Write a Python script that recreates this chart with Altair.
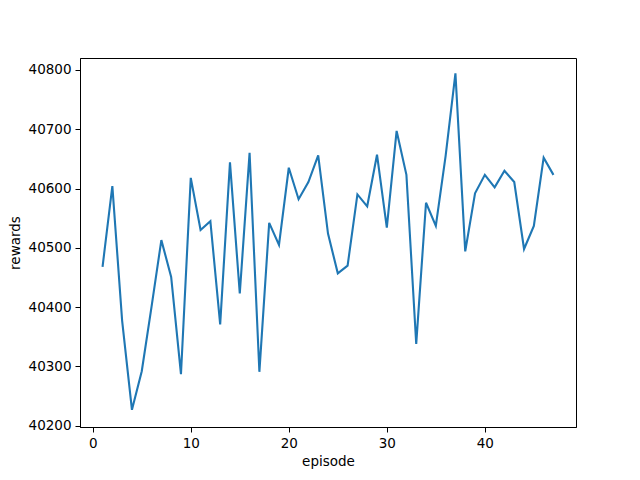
import altair as alt
import pandas as pd

episode = list(range(1, 48))
rewards = [40468, 40604, 40377, 40227, 40292, 40401, 40513, 40451, 40287, 40618,
           40530, 40545, 40371, 40644, 40423, 40660, 40291, 40542, 40505, 40635,
           40582, 40611, 40656, 40524, 40457, 40470, 40590, 40570, 40657, 40534,
           40697, 40623, 40338, 40576, 40537, 40655, 40794, 40494, 40592, 40623,
           40602, 40630, 40611, 40498, 40537, 40652, 40623]

df = pd.DataFrame({"episode": episode, "rewards": rewards})

font = "DejaVu Sans"

chart = alt.Chart(df).mark_line(color="#1f77b4", strokeWidth=2.1, clip=True).encode(
    x=alt.X("episode:Q", scale=alt.Scale(domain=[-1.3, 49.3], nice=False, zero=False),
            axis=alt.Axis(values=[0, 10, 20, 30, 40], title="episode", grid=False,
                          domainColor="black", tickColor="black", tickSize=5,
                          labelPadding=4, labelFontSize=13.5, labelColor="black",
                          labelFont=font, titleFont=font, titleFontSize=13.5,
                          titleFontWeight="normal", titleColor="black", titlePadding=5,
                          labelFlush=False)),
    y=alt.Y("rewards:Q", scale=alt.Scale(domain=[40198, 40820], nice=False, zero=False),
            axis=alt.Axis(values=[40200, 40300, 40400, 40500, 40600, 40700, 40800],
                          format="d", title="rewards", grid=False,
                          domainColor="black", tickColor="black", tickSize=5,
                          labelPadding=4, labelFontSize=13.5, labelColor="black",
                          labelFont=font, titleFont=font, titleFontSize=13.5,
                          titleFontWeight="normal", titleColor="black", titlePadding=6,
                          labelFlush=False)),
).properties(
    width=496, height=369,
    autosize=alt.AutoSizeParams(type="none"),
    padding={"left": 72, "top": 50, "right": 50, "bottom": 45},
).configure_view(stroke="black", strokeWidth=1)

chart.save("out.html", embed_options={"renderer": "svg", "actions": False})
